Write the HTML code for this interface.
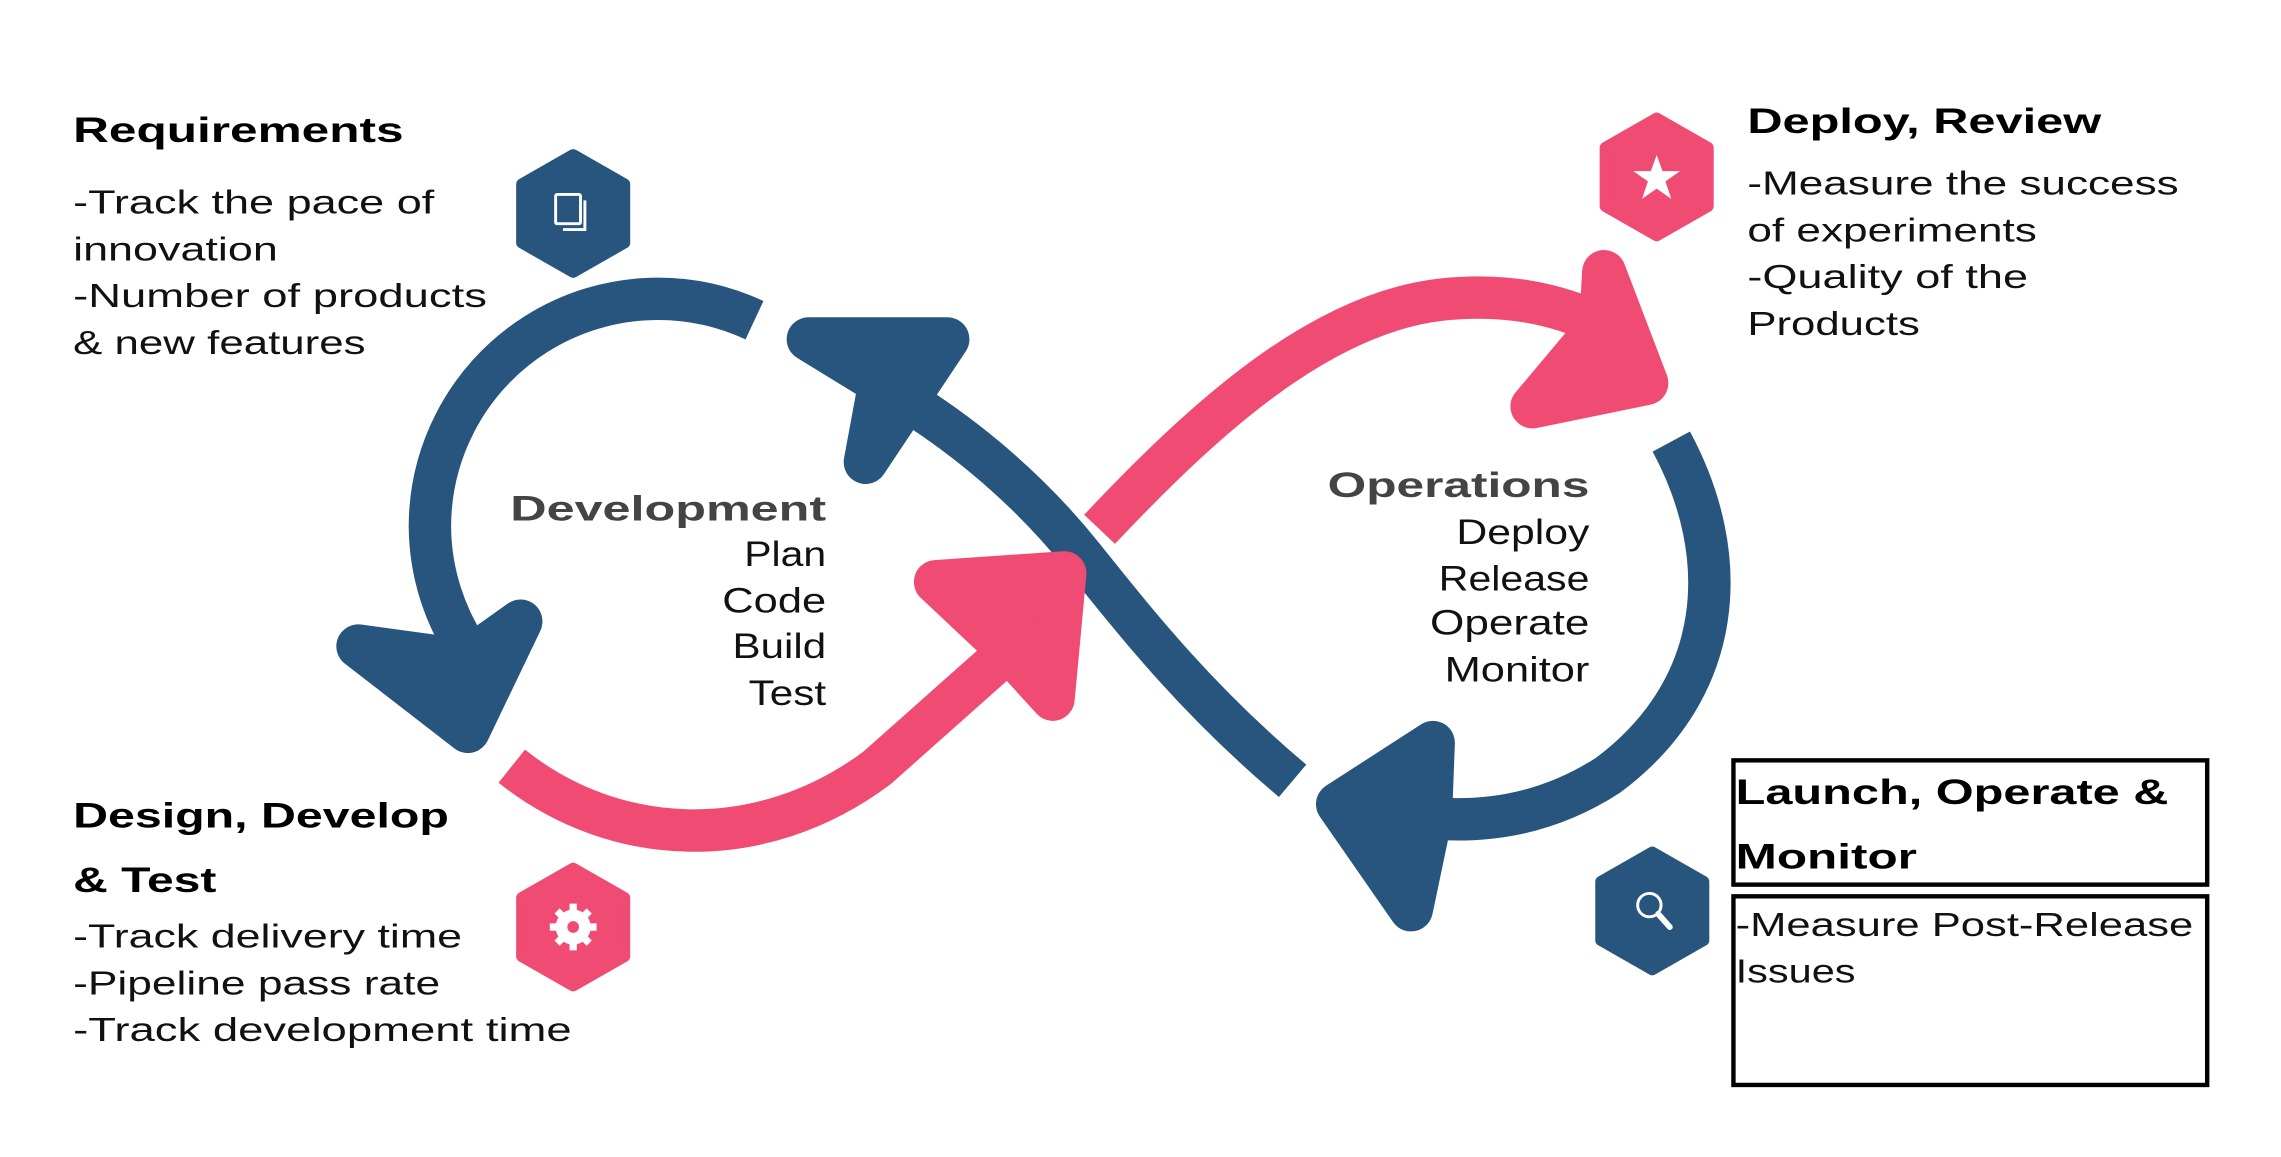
<!DOCTYPE html>
<html><head><meta charset="utf-8"><style>
html,body{margin:0;padding:0;background:#fff;}
svg{display:block;}
text{font-family:"Liberation Sans",sans-serif;}
.h{font-weight:bold;font-size:24px;fill:#000;}
.b{font-size:23px;fill:#111;}
.c{font-weight:bold;font-size:24px;fill:#444;}
.d{font-size:24px;fill:#111;}
</style></head><body>
<svg width="2281" height="1157" viewBox="0 0 2281 1157" xmlns="http://www.w3.org/2000/svg">
<g transform="scale(1.4622)">
<g fill="none" stroke-linecap="butt">
 <path d="M516 219 A156 156 0 0 0 294 360 A156 156 0 0 0 322 448" stroke="#27557D" stroke-width="29"/>
 <path d="M884 534 C820 480 780 430 740 380 C700 330 650 290 600 262" stroke="#27557D" stroke-width="29"/>
 <path d="M1143 302 C1185 380 1180 470 1100 530 C1060 556 1020 562 985 560" stroke="#27557D" stroke-width="29"/>
</g>
<g stroke-linejoin="round">
 <path d="M245 442 L320 500 L356 425 L318 452 Z" fill="#27557D" stroke="#27557D" stroke-width="30"/>
 <path d="M553 232 L648 232 L592 316 L602 262 Z" fill="#27557D" stroke="#27557D" stroke-width="30"/>
 <path d="M980 508 L915 550 L965 622 L978 560 Z" fill="#27557D" stroke="#27557D" stroke-width="30"/>
</g>
<g fill="none">
 <path d="M350 524 C420 580 520 585 600 525 L690 445" stroke="#fff" stroke-width="44"/>
 <path d="M350 524 C420 580 520 585 600 525 L690 445" stroke="#F04B72" stroke-width="29"/>
 <path d="M752 362 C820 290 900 215 985 205 C1030 200 1065 208 1095 222" stroke="#fff" stroke-width="44"/>
 <path d="M752 362 C820 290 900 215 985 205 C1030 200 1065 208 1095 222" stroke="#F04B72" stroke-width="29"/>
</g>
<g stroke-linejoin="round">
 <path d="M640 398 L728 392 L720 478 L690 445 Z" fill="#F04B72" stroke="#F04B72" stroke-width="30"/>
 <path d="M1097 186 L1126 262 L1048 278 L1095 222 Z" fill="#F04B72" stroke="#F04B72" stroke-width="30"/>
</g>
<g stroke-linejoin="round" stroke-width="8">
 <polygon points="392,106 427,126 427,166 392,186 357,166 357,126" fill="#27557D" stroke="#27557D"/>
 <polygon points="392,594 427,614 427,654 392,674 357,654 357,614" fill="#F04B72" stroke="#F04B72"/>
 <polygon points="1133,81 1168,101 1168,141 1133,161 1098,141 1098,101" fill="#F04B72" stroke="#F04B72"/>
 <polygon points="1130,583 1165,603 1165,643 1130,663 1095,643 1095,603" fill="#27557D" stroke="#27557D"/>
</g>
<g fill="none" stroke="#fff" stroke-width="2">
 <rect x="380" y="133" width="17" height="20" rx="1"/>
 <path d="M400 137 V157 H385"/>
 <circle cx="1128" cy="619" r="8"/>
 <path d="M1134 625 L1142 634" stroke-width="4" stroke-linecap="round"/>
</g>
<g fill="#fff">
 <circle cx="392" cy="634" r="12"/>
 <g stroke="#fff" stroke-width="5">
  <path d="M392 618 V650 M376 634 H408 M381 623 L403 645 M403 623 L381 645"/>
 </g>
 <circle cx="392" cy="634" r="4" fill="#F04B72"/>
 <polygon points="1133,106 1137,117 1149,117 1139,124 1143,136 1133,129 1123,136 1127,124 1117,117 1129,117"/>
</g>
<text class="h" x="50" y="97" textLength="226" lengthAdjust="spacingAndGlyphs">Requirements</text>
<text class="b" x="50" y="146" textLength="247" lengthAdjust="spacingAndGlyphs">-Track the pace of</text>
<text class="b" x="50" y="178" textLength="140" lengthAdjust="spacingAndGlyphs">innovation</text>
<text class="b" x="50" y="210" textLength="283" lengthAdjust="spacingAndGlyphs">-Number of products</text>
<text class="b" x="50" y="242" textLength="200" lengthAdjust="spacingAndGlyphs">&amp; new features</text>

<text class="h" x="50" y="566" textLength="257" lengthAdjust="spacingAndGlyphs">Design, Develop</text>
<text class="h" x="50" y="610" textLength="98" lengthAdjust="spacingAndGlyphs">&amp; Test</text>
<text class="b" x="50" y="648" textLength="266" lengthAdjust="spacingAndGlyphs">-Track delivery time</text>
<text class="b" x="50" y="680" textLength="251" lengthAdjust="spacingAndGlyphs">-Pipeline pass rate</text>
<text class="b" x="50" y="712" textLength="341" lengthAdjust="spacingAndGlyphs">-Track development time</text>

<text class="c" x="349" y="356" textLength="216" lengthAdjust="spacingAndGlyphs">Development</text>
<text class="d" x="509" y="387" textLength="56" lengthAdjust="spacingAndGlyphs">Plan</text>
<text class="d" x="494" y="419" textLength="71" lengthAdjust="spacingAndGlyphs">Code</text>
<text class="d" x="501" y="450" textLength="64" lengthAdjust="spacingAndGlyphs">Build</text>
<text class="d" x="512" y="482" textLength="53" lengthAdjust="spacingAndGlyphs">Test</text>

<text class="c" x="908" y="340" textLength="179" lengthAdjust="spacingAndGlyphs">Operations</text>
<text class="d" x="996" y="372" textLength="91" lengthAdjust="spacingAndGlyphs">Deploy</text>
<text class="d" x="984" y="404" textLength="103" lengthAdjust="spacingAndGlyphs">Release</text>
<text class="d" x="978" y="434" textLength="109" lengthAdjust="spacingAndGlyphs">Operate</text>
<text class="d" x="988" y="466" textLength="99" lengthAdjust="spacingAndGlyphs">Monitor</text>

<text class="h" x="1195" y="91" textLength="242" lengthAdjust="spacingAndGlyphs">Deploy, Review</text>
<text class="b" x="1195" y="133" textLength="295" lengthAdjust="spacingAndGlyphs">-Measure the success</text>
<text class="b" x="1195" y="165" textLength="198" lengthAdjust="spacingAndGlyphs">of experiments</text>
<text class="b" x="1195" y="197" textLength="192" lengthAdjust="spacingAndGlyphs">-Quality of the</text>
<text class="b" x="1195" y="229" textLength="118" lengthAdjust="spacingAndGlyphs">Products</text>

<rect x="1185.5" y="520" width="324" height="85" fill="none" stroke="#000" stroke-width="3"/>
<rect x="1185.5" y="613" width="324" height="129" fill="none" stroke="#000" stroke-width="3"/>
<text class="h" x="1187" y="550" textLength="296" lengthAdjust="spacingAndGlyphs">Launch, Operate &amp;</text>
<text class="h" x="1187" y="594" textLength="124" lengthAdjust="spacingAndGlyphs">Monitor</text>
<text class="b" x="1187" y="640" textLength="313" lengthAdjust="spacingAndGlyphs">-Measure Post-Release</text>
<text class="b" x="1187" y="672" textLength="82" lengthAdjust="spacingAndGlyphs">Issues</text>
</g>
</svg>
</body></html>
